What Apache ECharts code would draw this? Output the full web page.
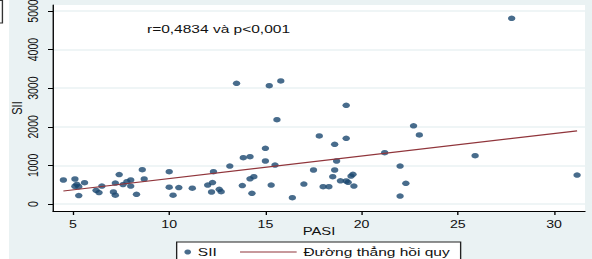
<!DOCTYPE html>
<html>
<head>
<meta charset="utf-8">
<script src="https://cdn.jsdelivr.net/npm/echarts@6.0.0/dist/echarts.min.js"></script>
<style>
html, body { margin: 0; padding: 0; background: #fff; overflow: hidden; }
/* the source picture is stretched sideways, so the chart is drawn narrower and widened */
#chart {
    width: 439px; height: 259px;
    transform: scaleX(1.3485); transform-origin: 0 0;
    background: linear-gradient(to right, #fff 6.7px, #eaf2f3 6.7px);
}
</style>
</head>
<body>
<div id="chart"></div>
<script>
// PASI và SII của từng bệnh nhân
var pasi = [4.5, 5.1, 5.2, 5.3, 5.6, 5.3, 5.1, 6.2, 6.35, 6.5,
            7.1, 7.2, 7.2, 7.4, 7.6, 7.8, 8.0, 8.0, 8.3, 8.6,
            8.7, 10.0, 10.0, 10.2, 10.5, 11.2, 12.0, 12.25, 12.3, 12.2,
            12.6, 12.7, 13.15, 13.8, 13.85, 14.2, 14.2, 14.4, 14.3, 15.0,
            15.0, 15.3, 15.5, 16.4, 17.0, 17.5, 17.8, 18.0, 18.3, 18.6,
            18.7, 18.6, 18.5, 18.9, 19.2, 19.2, 19.3, 19.55, 19.45, 19.6,
            21.2, 22.0, 22.3, 22.0, 22.7, 23.0, 25.9, 31.2, 27.8, 13.5,
            15.2, 15.8, 15.6, 19.2];
var sii = [622, 648, 510, 448, 552, 220, 460, 355, 298, 466,
           311, 228, 544, 764, 505, 578, 622, 466, 251, 889,
           648, 837, 435, 228, 427, 409, 492, 557, 837, 311,
           381, 319, 984, 479, 1200, 1225, 653, 707, 277, 1443,
           1114, 492, 1010, 163, 518, 881, 1762, 448, 448, 1547,
           1114, 881, 707, 601, 1702, 596, 562, 769, 725, 466,
           1329, 984, 536, 207, 2026, 1788, 1251, 751, 4811, 3127,
           3065, 3187, 2184, 2557];

// đường thẳng hồi quy (hai đầu mút)
var regPasi = [4.5, 31.2];
var regSii = [337, 1895];

var xTicks = [5, 10, 15, 20, 25, 30];
var yTicks = [0, 1000, 2000, 3000, 4000, 5000];

var points = [];
for (var i = 0; i < pasi.length; i++) {
    points.push([pasi[i], sii[i]]);
}
var regLine = [];
for (var j = 0; j < regPasi.length; j++) {
    regLine.push([regPasi[j], regSii[j]]);
}

var font = '"Liberation Sans", Arial, sans-serif';
var lineColor = '#90353b';
var chart = echarts.init(document.getElementById('chart'), null, {renderer: 'svg'});

var option = {
    backgroundColor: 'transparent',
    animation: false,
    textStyle: {fontFamily: font},
    graphic: [
        {
            type: 'polyline',
            shape: {points: [[0, 0.5], [1.8, 0.5], [1.8, 23], [0, 23]]},
            style: {stroke: '#333', fill: null, lineWidth: 1}
        }
    ],
    title: {
        text: 'r=0,4834 và p<0,001',
        left: 109,
        top: 23,
        padding: 0,
        textStyle: {fontSize: 11.5, fontWeight: 'normal', color: '#111', fontFamily: font}
    },
    grid: {
        left: 39.3, right: 5.2, top: 5, bottom: 48,
        show: true, backgroundColor: '#fff', borderWidth: 0,
        outerBoundsMode: 'none'
    },
    xAxis: {
        type: 'value',
        min: 3.96,
        max: 31.61,
        name: 'PASI',
        nameLocation: 'middle',
        nameGap: 15,
        nameMoveOverlap: false,
        nameTextStyle: {fontSize: 11, color: '#111'},
        axisLine: {show: true, onZero: false, lineStyle: {color: '#000', width: 1}},
        axisTick: {show: true, length: 4, customValues: xTicks, lineStyle: {color: '#000'}},
        axisLabel: {customValues: xTicks, margin: 8, fontSize: 10.5, color: '#111'},
        splitLine: {show: false}
    },
    yAxis: {
        type: 'value',
        min: -181,
        max: 5155,
        name: 'SII',
        nameLocation: 'middle',
        nameRotate: 90,
        nameGap: 21,
        nameMoveOverlap: false,
        nameTextStyle: {fontSize: 11, color: '#111'},
        axisLine: {show: true, onZero: false, lineStyle: {color: '#000', width: 1}},
        axisTick: {show: true, length: 3.7, customValues: yTicks, lineStyle: {color: '#000'}},
        axisLabel: {
            customValues: yTicks, rotate: 90, margin: 9, fontSize: 10.5, color: '#111',
            formatter: function (v) { return String(v); }
        },
        splitLine: {show: true, lineStyle: {color: '#eaf2f3', width: 1.5}}
    },
    legend: [
        {
            data: [{name: 'SII', icon: 'circle'}],
            left: 136.7,
            top: 242,
            padding: [4, 0, 0, 0],
            itemWidth: 5,
            itemHeight: 10,
            selectedMode: false,
            z: 10,
            textStyle: {fontSize: 11.5, color: '#111'}
        },
        {
            data: [{name: 'Đường thẳng hồi quy', icon: 'path://M0,0L42,0L42,1.2L0,1.2Z'}],
            left: 131,
            top: 242,
            padding: [4, 8, 20, 47],
            itemWidth: 42,
            itemHeight: 10,
            selectedMode: false,
            backgroundColor: '#fff',
            borderColor: '#222',
            borderWidth: 1,
            borderRadius: 0,
            textStyle: {fontSize: 11.5, color: '#111'}
        }
    ],
    series: [
        {
            name: 'SII',
            type: 'scatter',
            data: points,
            symbol: 'circle',
            symbolSize: 5.5,
            itemStyle: {color: '#1a476f'}
        },
        {
            name: 'Đường thẳng hồi quy',
            type: 'line',
            data: regLine,
            symbol: 'none',
            itemStyle: {color: lineColor},
            lineStyle: {color: lineColor, width: 1.2},
            z: 3
        }
    ]
};

chart.setOption(option);
</script>
</body>
</html>
